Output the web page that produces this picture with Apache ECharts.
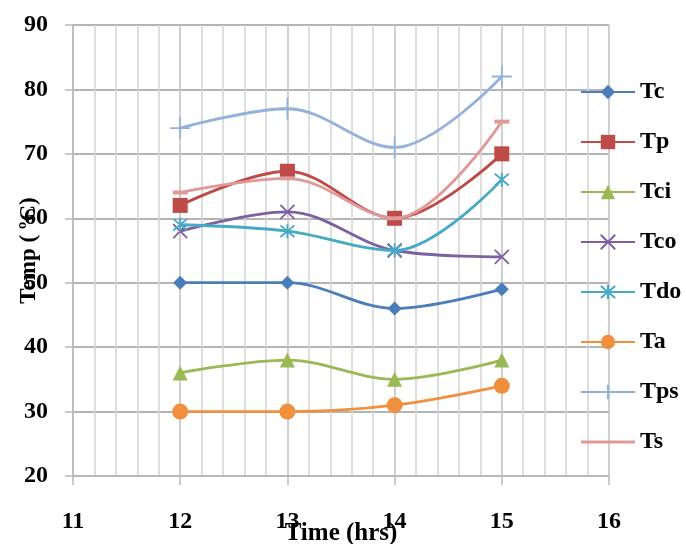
<!DOCTYPE html>
<html><head><meta charset="utf-8">
<script src="https://cdn.jsdelivr.net/npm/echarts@6/dist/echarts.min.js"></script>
<style>html,body{margin:0;padding:0;background:#fff}#c{width:686px;height:544px}</style>
</head><body><div id="c"></div>
<script>
var hours = [12, 13, 14, 15];
var seriesNames = ['Tc', 'Tp', 'Tci', 'Tco', 'Tdo', 'Ta', 'Tps', 'Ts'];
var Tc  = [50, 50, 46, 49];
var Tp  = [62, 67.3, 60, 70];
var Tci = [36, 38, 35, 38];
var Tco = [58, 61, 55, 54];
var Tdo = [59, 58, 55, 66];
var Ta  = [30, 30, 31, 34];
var Tps = [74, 77, 71, 82];
var Ts  = [64, 66.2, 60, 75];
var xTicks = [11, 12, 13, 14, 15, 16];
var yTicks = [20, 30, 40, 50, 60, 70, 80, 90];

var values = [Tc, Tp, Tci, Tco, Tdo, Ta, Tps, Ts];
var colors = ['#4A7EBB', '#BE4B48', '#98B954', '#7D60A0', '#46AAC5', '#F0903F', '#93B2DB', '#DE9998'];
var symbols = [
  'diamond', 'rect', 'triangle',
  'path://M0,0L10,10M10,0L0,10',
  'path://M0,0L10,10M10,0L0,10M5,-1L5,11',
  'circle',
  'path://M5,0L5,10M0,5L10,5',
  'rect'
];
var sizes = [14, 15, 15, 14, 14, 16, [20, 22], [15, 4]];
var serif = '"Liberation Serif", "DejaVu Serif", serif';

var series = seriesNames.map(function (n, i) {
  var stroked = (i === 3 || i === 4 || i === 6);
  return {
    name: n,
    type: 'line',
    smooth: 0.35,
    data: hours.map(function (h, k) { return [h, values[i][k]]; }),
    symbol: symbols[i],
    symbolSize: sizes[i],
    showSymbol: true,
    lineStyle: { color: colors[i], width: 2.8 },
    itemStyle: stroked ? { color: 'none', borderColor: colors[i], borderWidth: 1.8 } : { color: colors[i], borderWidth: 0 },
    z: 2 + i
  };
});

var legendData = seriesNames.map(function (n, i) {
  if (n === 'Ts') {
    return { name: n, icon: 'path://M0,0L0.1,0L0,0.1Z M0,7.6L54,7.6L54,10.4L0,10.4Z M0,18L0.1,18L0,17.9Z' };
  }
  return { name: n };
});

var chart = echarts.init(document.getElementById('c'), null, { renderer: 'canvas' });
chart.setOption({
  animation: false,
  backgroundColor: '#ffffff',
  grid: { left: 73, right: 77, top: 25, bottom: 68, containLabel: false, outerBoundsMode: 'none' },
  xAxis: {
    type: 'value', min: xTicks[0], max: xTicks[xTicks.length - 1], interval: 1,
    name: 'Time (hrs)', nameLocation: 'middle', nameGap: 45, nameMoveOverlap: false,
    nameTextStyle: { fontFamily: serif, fontWeight: 'bold', fontSize: 25, color: '#000' },
    axisLine: { show: true, lineStyle: { color: '#b8b8b8', width: 1.5 } },
    axisTick: { show: true, length: 9, lineStyle: { color: '#b8b8b8', width: 1.5 } },
    axisLabel: { margin: 34, fontFamily: serif, fontWeight: 'bold', fontSize: 24, color: '#000' },
    splitLine: { show: true, lineStyle: { color: '#c4c4c4', width: 1.6 } },
    minorTick: { show: false, splitNumber: 5 },
    minorSplitLine: { show: true, lineStyle: { color: '#d6d6d6', width: 1.6 } }
  },
  yAxis: {
    type: 'value', min: yTicks[0], max: yTicks[yTicks.length - 1], interval: 10,
    name: 'Temp ( ºC)', nameLocation: 'middle', nameGap: 32, nameRotate: 90, nameMoveOverlap: false,
    nameTextStyle: { fontFamily: serif, fontWeight: 'bold', fontSize: 23, color: '#000' },
    axisLine: { show: true, lineStyle: { color: '#b8b8b8', width: 1.5 } },
    axisTick: { show: true, length: 8, lineStyle: { color: '#b8b8b8', width: 1.5 } },
    axisLabel: { margin: 25, fontFamily: serif, fontWeight: 'bold', fontSize: 24, color: '#000' },
    splitLine: { show: true, lineStyle: { color: '#b4b4b4', width: 1.8 } }
  },
  legend: {
    orient: 'vertical', left: 575, top: 75,
    itemWidth: 54, itemHeight: 18, itemGap: 26,
    textStyle: { fontFamily: serif, fontWeight: 'bold', fontSize: 24, lineHeight: 24, color: '#000' },
    data: legendData
  },
  series: series
});
</script>
</body></html>
